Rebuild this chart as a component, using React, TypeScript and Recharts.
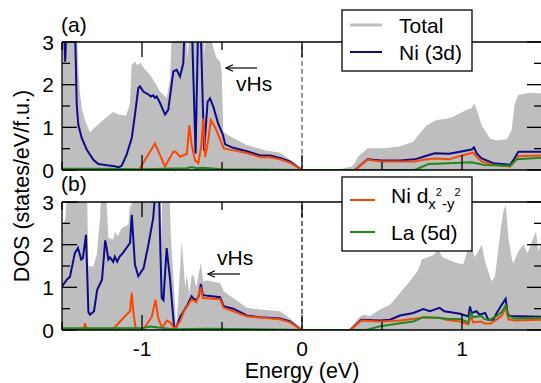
import { ComposedChart, Area, Line, XAxis, YAxis, ReferenceLine } from 'recharts';

// DOS curves: [energy (eV), DOS (states/eV/f.u.)]
// values above 3 run off the top of the panel and get clipped
const totalA: [number, number][] = [
  [-1.5, 3.6], [-1.41, 3.6], [-1.4, 2.6], [-1.39, 1.9], [-1.375, 1.4], [-1.35, 1.1], [-1.325, 0.88],
  [-1.3, 0.98], [-1.25, 1.15], [-1.2, 1.3], [-1.18, 1.36], [-1.15, 1.3], [-1.1, 1.27], [-1.075, 1.55],
  [-1.065, 2.45], [-1.044, 2.55], [-1.03, 2.45], [-1.0125, 2.52], [-0.98, 2.35], [-0.95, 2.23],
  [-0.92, 2.05], [-0.8875, 1.84], [-0.846, 1.69], [-0.825, 2.1], [-0.81, 3.6], [-0.725, 3.6],
  [-0.715, 2.6], [-0.7, 3.6], [-0.615, 3.6], [-0.608, 2.65], [-0.6, 3.6], [-0.575, 3.6], [-0.565, 3.05],
  [-0.55, 2.8], [-0.533, 2.62], [-0.5125, 2.55], [-0.502, 2.32], [-0.492, 0.9], [-0.47, 0.83],
  [-0.35, 0.59], [-0.22, 0.45], [-0.14, 0.41], [-0.075, 0.24], [-0.015, 0.07], [0, 0], [0.19, 0],
  [0.25, 0.03], [0.31, 0.08], [0.33, 0.16], [0.35, 0.31], [0.41, 0.51], [0.51, 0.51], [0.61, 0.55],
  [0.696, 0.66], [0.727, 0.82], [0.779, 1.05], [0.842, 1.17], [0.904, 1.2], [0.946, 1.25], [0.9875, 1.33],
  [1.03, 1.41], [1.06, 1.45], [1.075, 1.56], [1.092, 1.41], [1.123, 1.05], [1.175, 0.74], [1.217, 0.69],
  [1.28, 0.72], [1.31, 0.94], [1.33, 1.56], [1.352, 1.76], [1.404, 1.8], [1.446, 1.81], [1.5, 1.79],
];
const niA: [number, number][] = [
  [-1.5, 3.6], [-1.49, 3.6], [-1.48, 2.54], [-1.47, 3.6], [-1.42, 3.6], [-1.408, 1.53], [-1.398, 1.06],
  [-1.377, 0.75], [-1.346, 0.48], [-1.304, 0.24], [-1.273, 0.14], [-1.22, 0.11], [-1.169, 0.086],
  [-1.148, 0.06], [-1.127, 0.1], [-1.096, 0.36], [-1.064, 0.75], [-1.044, 1.3], [-1.023, 1.92],
  [-1.0125, 1.96], [-0.992, 1.84], [-0.96, 1.77], [-0.944, 1.72], [-0.93, 1.75], [-0.919, 1.69],
  [-0.908, 1.72], [-0.8875, 1.57], [-0.856, 1.3], [-0.836, 1.41], [-0.804, 2.31], [-0.783, 2.35],
  [-0.7625, 2.19], [-0.742, 2.5], [-0.731, 3.6], [-0.69, 3.6], [-0.665, 0.39], [-0.648, 3.6],
  [-0.635, 3.6], [-0.612, 0.45], [-0.59, 1.6], [-0.575, 1.68], [-0.555, 1.49], [-0.525, 1.1],
  [-0.495, 0.83], [-0.48, 0.6], [-0.43, 0.52], [-0.345, 0.44], [-0.26, 0.34], [-0.2, 0.34],
  [-0.1375, 0.28], [-0.075, 0.2], [0, 0], [0.33, 0], [0.41, 0.25], [0.497, 0.22], [0.61, 0.22],
  [0.706, 0.25], [0.758, 0.31], [0.83, 0.39], [0.92, 0.38], [0.9875, 0.43], [1.06, 0.48], [1.075, 0.53],
  [1.092, 0.39], [1.123, 0.27], [1.196, 0.16], [1.3, 0.12], [1.321, 0.23], [1.352, 0.43], [1.5, 0.43],
];
const dxA: [number, number][] = [
  [-1.5, 0], [-1.02, 0], [-0.919, 0.62], [-0.856, 0.08], [-0.804, 0.43], [-0.79, 0.43], [-0.7625, 0.31],
  [-0.72, 0.38], [-0.704, 1.05], [-0.69, 0.6], [-0.669, 0.23], [-0.648, 0.16], [-0.63, 0.55],
  [-0.617, 1.21], [-0.605, 0.31], [-0.586, 0.7], [-0.57, 1.17], [-0.54, 0.98], [-0.51, 0.7],
  [-0.49, 0.51], [-0.43, 0.46], [-0.345, 0.4], [-0.26, 0.3], [-0.2, 0.3], [-0.1375, 0.25],
  [-0.075, 0.17], [0, 0], [0.33, 0], [0.41, 0.24], [0.497, 0.2], [0.706, 0.2], [0.758, 0.24],
  [0.83, 0.27], [0.92, 0.25], [0.9875, 0.33], [1.07, 0.41], [1.092, 0.31], [1.123, 0.2], [1.196, 0.12],
  [1.3, 0.08], [1.33, 0.2], [1.352, 0.33], [1.5, 0.34],
];
const laA: [number, number][] = [
  [-1.5, 0.03], [-1.3, 0.03], [-1.0, 0.02], [-0.72, 0.04], [-0.69, 0.07], [-0.66, 0.04], [-0.62, 0.05],
  [-0.5, 0.02], [0, 0], [0.706, 0], [0.79, 0.14], [0.92, 0.16], [1.06, 0.18], [1.14, 0.12], [1.3, 0.1],
  [1.34, 0.25], [1.5, 0.29],
];

const totalB: [number, number][] = [
  [-1.5, 2.4], [-1.48, 2.6], [-1.46, 3.6], [-1.345, 3.6], [-1.335, 1.5], [-1.305, 1.48], [-1.283, 1.76],
  [-1.2625, 2.62], [-1.25, 3.6], [-1.23, 3.6], [-1.21, 2.16], [-1.18, 2.12], [-1.17, 2.3], [-1.15, 2.2],
  [-1.13, 2.38], [-1.085, 2.47], [-1.075, 2.95], [-1.067, 2.85], [-1.06, 3.6], [-0.97, 3.6], [-0.96, 2.9],
  [-0.95, 3.6], [-0.8875, 3.6], [-0.88, 2.2], [-0.87, 3.6], [-0.83, 3.6], [-0.82, 2.2], [-0.8, 1.0],
  [-0.7875, 0.1], [-0.775, 0.6], [-0.752, 2.1], [-0.73, 1.0], [-0.72, 1.3], [-0.705, 0.85], [-0.69, 1.25],
  [-0.68, 1.3], [-0.66, 1.0], [-0.633, 1.57], [-0.617, 1.14], [-0.594, 1.16], [-0.5125, 1.1],
  [-0.49, 0.91], [-0.43, 0.75], [-0.345, 0.52], [-0.2625, 0.48], [-0.1375, 0.44], [-0.075, 0.27],
  [0, 0], [0.3, 0], [0.352, 0.28], [0.383, 0.36], [0.425, 0.33], [0.4875, 0.48], [0.55, 0.59],
  [0.6125, 0.87], [0.675, 1.14], [0.727, 1.41], [0.748, 1.65], [0.82, 1.75], [0.852, 1.88], [0.88, 1.7],
  [0.967, 1.57], [1.008, 1.54], [1.04, 1.92], [1.05, 2.07], [1.08, 1.7], [1.123, 2.0], [1.144, 1.6],
  [1.185, 1.14], [1.206, 1.25], [1.2375, 2.23], [1.258, 2.78], [1.273, 2.94], [1.29, 2.16], [1.31, 1.7],
  [1.32, 1.55], [1.352, 1.84], [1.383, 2.0], [1.41, 1.8], [1.446, 2.16], [1.4625, 2.3], [1.477, 1.85],
  [1.5, 2.1],
];
const niB: [number, number][] = [
  [-1.5, 1.02], [-1.47, 1.18], [-1.45, 1.25], [-1.42, 1.8], [-1.4, 1.92], [-1.38, 1.65], [-1.37, 1.68],
  [-1.35, 2.23], [-1.335, 0.42], [-1.325, 0.36], [-1.3, 0.44], [-1.28, 0.94], [-1.25, 1.18], [-1.23, 2.1],
  [-1.22, 1.9], [-1.21, 1.65], [-1.2, 1.7], [-1.18, 1.6], [-1.17, 1.72], [-1.155, 1.6], [-1.14, 1.72],
  [-1.12, 1.8], [-1.075, 2.04], [-1.064, 2.7], [-1.044, 1.53], [-1.023, 1.26], [-0.99, 1.45], [-0.96, 2.0],
  [-0.93, 2.62], [-0.91, 3.6], [-0.895, 3.6], [-0.8875, 2.2], [-0.877, 0.75], [-0.866, 0.7],
  [-0.846, 1.92], [-0.825, 1.2], [-0.8, 0.09], [-0.79, 0.02], [-0.76, 0.32], [-0.74, 0.44], [-0.72, 0.56],
  [-0.69, 0.79], [-0.68, 0.74], [-0.66, 0.7], [-0.645, 0.8], [-0.632, 1.08], [-0.62, 0.82], [-0.59, 0.8],
  [-0.5125, 0.77], [-0.49, 0.56], [-0.43, 0.5], [-0.345, 0.34], [-0.2625, 0.3], [-0.1375, 0.27],
  [-0.075, 0.2], [0, 0], [0.3, 0], [0.37, 0.24], [0.4875, 0.22], [0.55, 0.24], [0.6125, 0.34],
  [0.696, 0.4], [0.758, 0.49], [0.8, 0.44], [0.86, 0.52], [0.89, 0.44], [0.9875, 0.38], [1.04, 0.32],
  [1.05, 0.55], [1.06, 0.4], [1.09, 0.44], [1.11, 0.36], [1.144, 0.4], [1.165, 0.24], [1.196, 0.24],
  [1.217, 0.4], [1.248, 0.59], [1.273, 0.73], [1.285, 0.37], [1.3, 0.33], [1.5, 0.31],
];
const dxB: [number, number][] = [
  [-1.5, 0], [-1.365, 0], [-1.356, 0.16], [-1.345, 0], [-1.18, 0.02], [-1.1375, 0.2], [-1.096, 0.36],
  [-1.075, 0.44], [-1.064, 0.87], [-1.055, 0.44], [-1.04, 0.05], [-1.0, 0.02], [-0.98, 0.08], [-0.94, 0.3],
  [-0.915, 0.71], [-0.9, 0.3], [-0.88, 0.1], [-0.865, 0.1], [-0.845, 0.22], [-0.825, 0.18], [-0.795, 0.02],
  [-0.76, 0.22], [-0.74, 0.42], [-0.69, 0.72], [-0.66, 0.65], [-0.632, 1.0], [-0.62, 0.75],
  [-0.5125, 0.72], [-0.49, 0.52], [-0.345, 0.32], [-0.1375, 0.25], [-0.075, 0.18], [0, 0], [0.3, 0],
  [0.37, 0.22], [0.4875, 0.2], [0.6125, 0.22], [0.74, 0.28], [0.76, 0.3], [0.86, 0.29], [0.9, 0.24],
  [0.9875, 0.2], [1.04, 0.13], [1.05, 0.33], [1.07, 0.18], [1.12, 0.2], [1.14, 0.15], [1.18, 0.15],
  [1.217, 0.25], [1.248, 0.33], [1.273, 0.53], [1.29, 0.25], [1.33, 0.22], [1.5, 0.24],
];
const laB: [number, number][] = [
  [-1.5, 0.04], [-1.2, 0.04], [-1.0, 0.04], [-0.95, 0.08], [-0.9, 0.06], [-0.8, 0.02], [-0.6, 0.03],
  [-0.3, 0.02], [0, 0], [0.404, 0], [0.49, 0.09], [0.6125, 0.16], [0.696, 0.2], [0.758, 0.3], [0.86, 0.28],
  [0.92, 0.26], [0.9875, 0.26], [1.04, 0.18], [1.053, 0.4], [1.07, 0.3], [1.12, 0.33], [1.14, 0.26],
  [1.17, 0.23], [1.217, 0.33], [1.248, 0.42], [1.273, 0.58], [1.29, 0.33], [1.33, 0.27], [1.45, 0.28],
  [1.5, 0.29],
];

const xTicks = [-1.5, -1, -0.5, 0, 0.5, 1, 1.5];
const yTicks = [0, 0.5, 1, 1.5, 2, 2.5, 3];

const FONT = '"Liberation Sans", Arial, Helvetica, sans-serif';
const FS = 21;
const GRAY = '#bebebe';
const NAVY = '#0b0b8c';
const ORANGE = '#ff4500';
const GREEN = '#1a8c1a';

const rows = (pts: [number, number][]) => pts.map(([x, y]) => ({ x, y }));

// integer ticks are major (15px), half ticks minor (8px); all point into the plot
const tickLen = (v: number) => (Number.isInteger(v) ? 15 : 8);

const xTick = (side: 'top' | 'bottom', showLabel: boolean) => (props: any) => {
  const { x, y, payload } = props;
  const v = payload.value as number;
  const dir = side === 'bottom' ? -1 : 1;
  return (
    <g>
      <line x1={x} y1={y} x2={x} y2={y + dir * tickLen(v)} stroke="#000" strokeWidth={1.3} />
      {showLabel && Number.isInteger(v) && (
        <text x={x} y={y + 18} textAnchor="middle" dominantBaseline="central"
          fontSize={FS} fontFamily={FONT} fill="#000">{v}</text>
      )}
    </g>
  );
};

const yTick = (side: 'left' | 'right') => (props: any) => {
  const { x, y, payload } = props;
  const v = payload.value as number;
  const dir = side === 'left' ? 1 : -1;
  return (
    <g>
      <line x1={x} y1={y} x2={x + dir * tickLen(v)} y2={y} stroke="#000" strokeWidth={1.3} />
      {side === 'left' && Number.isInteger(v) && (
        <text x={x - 8} y={y} textAnchor="end" dominantBaseline="central"
          fontSize={FS} fontFamily={FONT} fill="#000">{v}</text>
      )}
    </g>
  );
};

const axisLine = { stroke: '#000', strokeWidth: 1.3 };

interface PanelProps {
  total: [number, number][];
  ni: [number, number][];
  dx: [number, number][];
  la: [number, number][];
  height: number;
  top: number;
  bottom: number;
  bottomLabels: boolean;
  zeroColor: string;
}

function Panel({ total, ni, dx, la, height, top, bottom, bottomLabels, zeroColor }: PanelProps) {
  return (
    <ComposedChart width={545} height={height} margin={{ top, right: 0, bottom: 0, left: 0 }}
      style={{ overflow: 'visible' }}>
      <XAxis dataKey="x" type="number" domain={[-1.5, 1.5]} allowDataOverflow ticks={xTicks}
        interval={0} height={bottom} tickSize={0} tickMargin={0} tickLine={false}
        axisLine={axisLine} tick={xTick('bottom', bottomLabels)} />
      <XAxis xAxisId="top" orientation="top" dataKey="x" type="number" domain={[-1.5, 1.5]}
        allowDataOverflow ticks={xTicks} interval={0} height={2} tickSize={0} tickMargin={0}
        tickLine={false} axisLine={axisLine} tick={xTick('top', false)} />
      <YAxis type="number" domain={[0, 3]} allowDataOverflow ticks={yTicks} interval={0} width={62}
        tickSize={0} tickMargin={0} tickLine={false} axisLine={axisLine} tick={yTick('left')} />
      <YAxis yAxisId="right" orientation="right" type="number" domain={[0, 3]} allowDataOverflow
        ticks={yTicks} interval={0} width={3} tickSize={0} tickMargin={0} tickLine={false}
        axisLine={axisLine} tick={yTick('right')} />
      <Area data={rows(total)} dataKey="y" type="linear" fill={GRAY} fillOpacity={1} stroke="none"
        dot={false} activeDot={false} isAnimationActive={false} />
      <ReferenceLine x={0} stroke={zeroColor} strokeWidth={1.2} strokeDasharray="5 3" />
      <Line data={rows(ni)} dataKey="y" type="linear" stroke={NAVY} strokeWidth={2} dot={false}
        activeDot={false} isAnimationActive={false} />
      <Line data={rows(dx)} dataKey="y" type="linear" stroke={ORANGE} strokeWidth={2} dot={false}
        activeDot={false} isAnimationActive={false} />
      <Line data={rows(la)} dataKey="y" type="linear" stroke={GREEN} strokeWidth={2} dot={false}
        activeDot={false} isAnimationActive={false} />
    </ComposedChart>
  );
}

const txt = { fontFamily: FONT, fontSize: FS, fill: '#000' };

function Arrow({ x1, x2, y }: { x1: number; x2: number; y: number }) {
  return (
    <g stroke="#000" strokeWidth={1.2} fill="none">
      <line x1={x1} y1={y} x2={x2} y2={y} />
      <polyline points={`${x2 + 7},${y - 3.3} ${x2},${y} ${x2 + 7},${y + 3.3}`} />
    </g>
  );
}

export default function App() {
  return (
    <div style={{ position: 'absolute', left: 0, top: 0, width: 541, height: 383, overflow: 'hidden', background: '#fff' }}>
      <div style={{ position: 'absolute', left: 0, top: 0 }}>
        <Panel total={totalA} ni={niA} dx={dxA} la={laA} height={190} top={40} bottom={20}
          bottomLabels={false} zeroColor="#466482" />
      </div>
      <div style={{ position: 'absolute', left: 0, top: 172 }}>
        <Panel total={totalB} ni={niB} dx={dxB} la={laB} height={211} top={28} bottom={53}
          bottomLabels zeroColor="#111" />
      </div>
      <svg width={541} height={383} style={{ position: 'absolute', left: 0, top: 0, pointerEvents: 'none' }}>
        <text x={61} y={32} {...txt}>(a)</text>
        <text x={61} y={191} {...txt}>(b)</text>
        <text x={0} y={0} {...txt} fontSize={21.5} textAnchor="middle" transform="translate(29,186) rotate(-90)">
          DOS (states/eV/f.u.)
        </text>
        <text x={302} y={378} {...txt} fontSize={21.5} textAnchor="middle">Energy (eV)</text>

        <Arrow x1={257} x2={226} y={68} />
        <text x={236} y={91} {...txt}>vHs</text>
        <Arrow x1={240} x2={208} y={274} />
        <text x={217} y={265} {...txt}>vHs</text>

        <rect x={342} y={10} width={130} height={61} fill="#fff" stroke="#000" strokeWidth={1.3} />
        <line x1={350} x2={382} y1={25} y2={25} stroke={GRAY} strokeWidth={3} />
        <text x={399} y={33} {...txt}>Total</text>
        <line x1={350} x2={382} y1={52} y2={52} stroke={NAVY} strokeWidth={2} />
        <text x={399} y={60} {...txt}>Ni (3d)</text>

        <rect x={342} y={177} width={130} height={74} fill="#fff" stroke="#000" strokeWidth={1.3} />
        <line x1={350} x2={375} y1={200} y2={200} stroke={ORANGE} strokeWidth={2} />
        <text x={391} y={203} {...txt}>
          Ni d
          <tspan fontSize={15} dy={6}>x</tspan>
          <tspan fontSize={11} dy={-13}>2</tspan>
          <tspan fontSize={15} dy={13}>-y</tspan>
          <tspan fontSize={11} dy={-13}>2</tspan>
        </text>
        <line x1={350} x2={375} y1={232} y2={232} stroke={GREEN} strokeWidth={2} />
        <text x={391} y={240} {...txt}>La (5d)</text>
      </svg>
    </div>
  );
}
